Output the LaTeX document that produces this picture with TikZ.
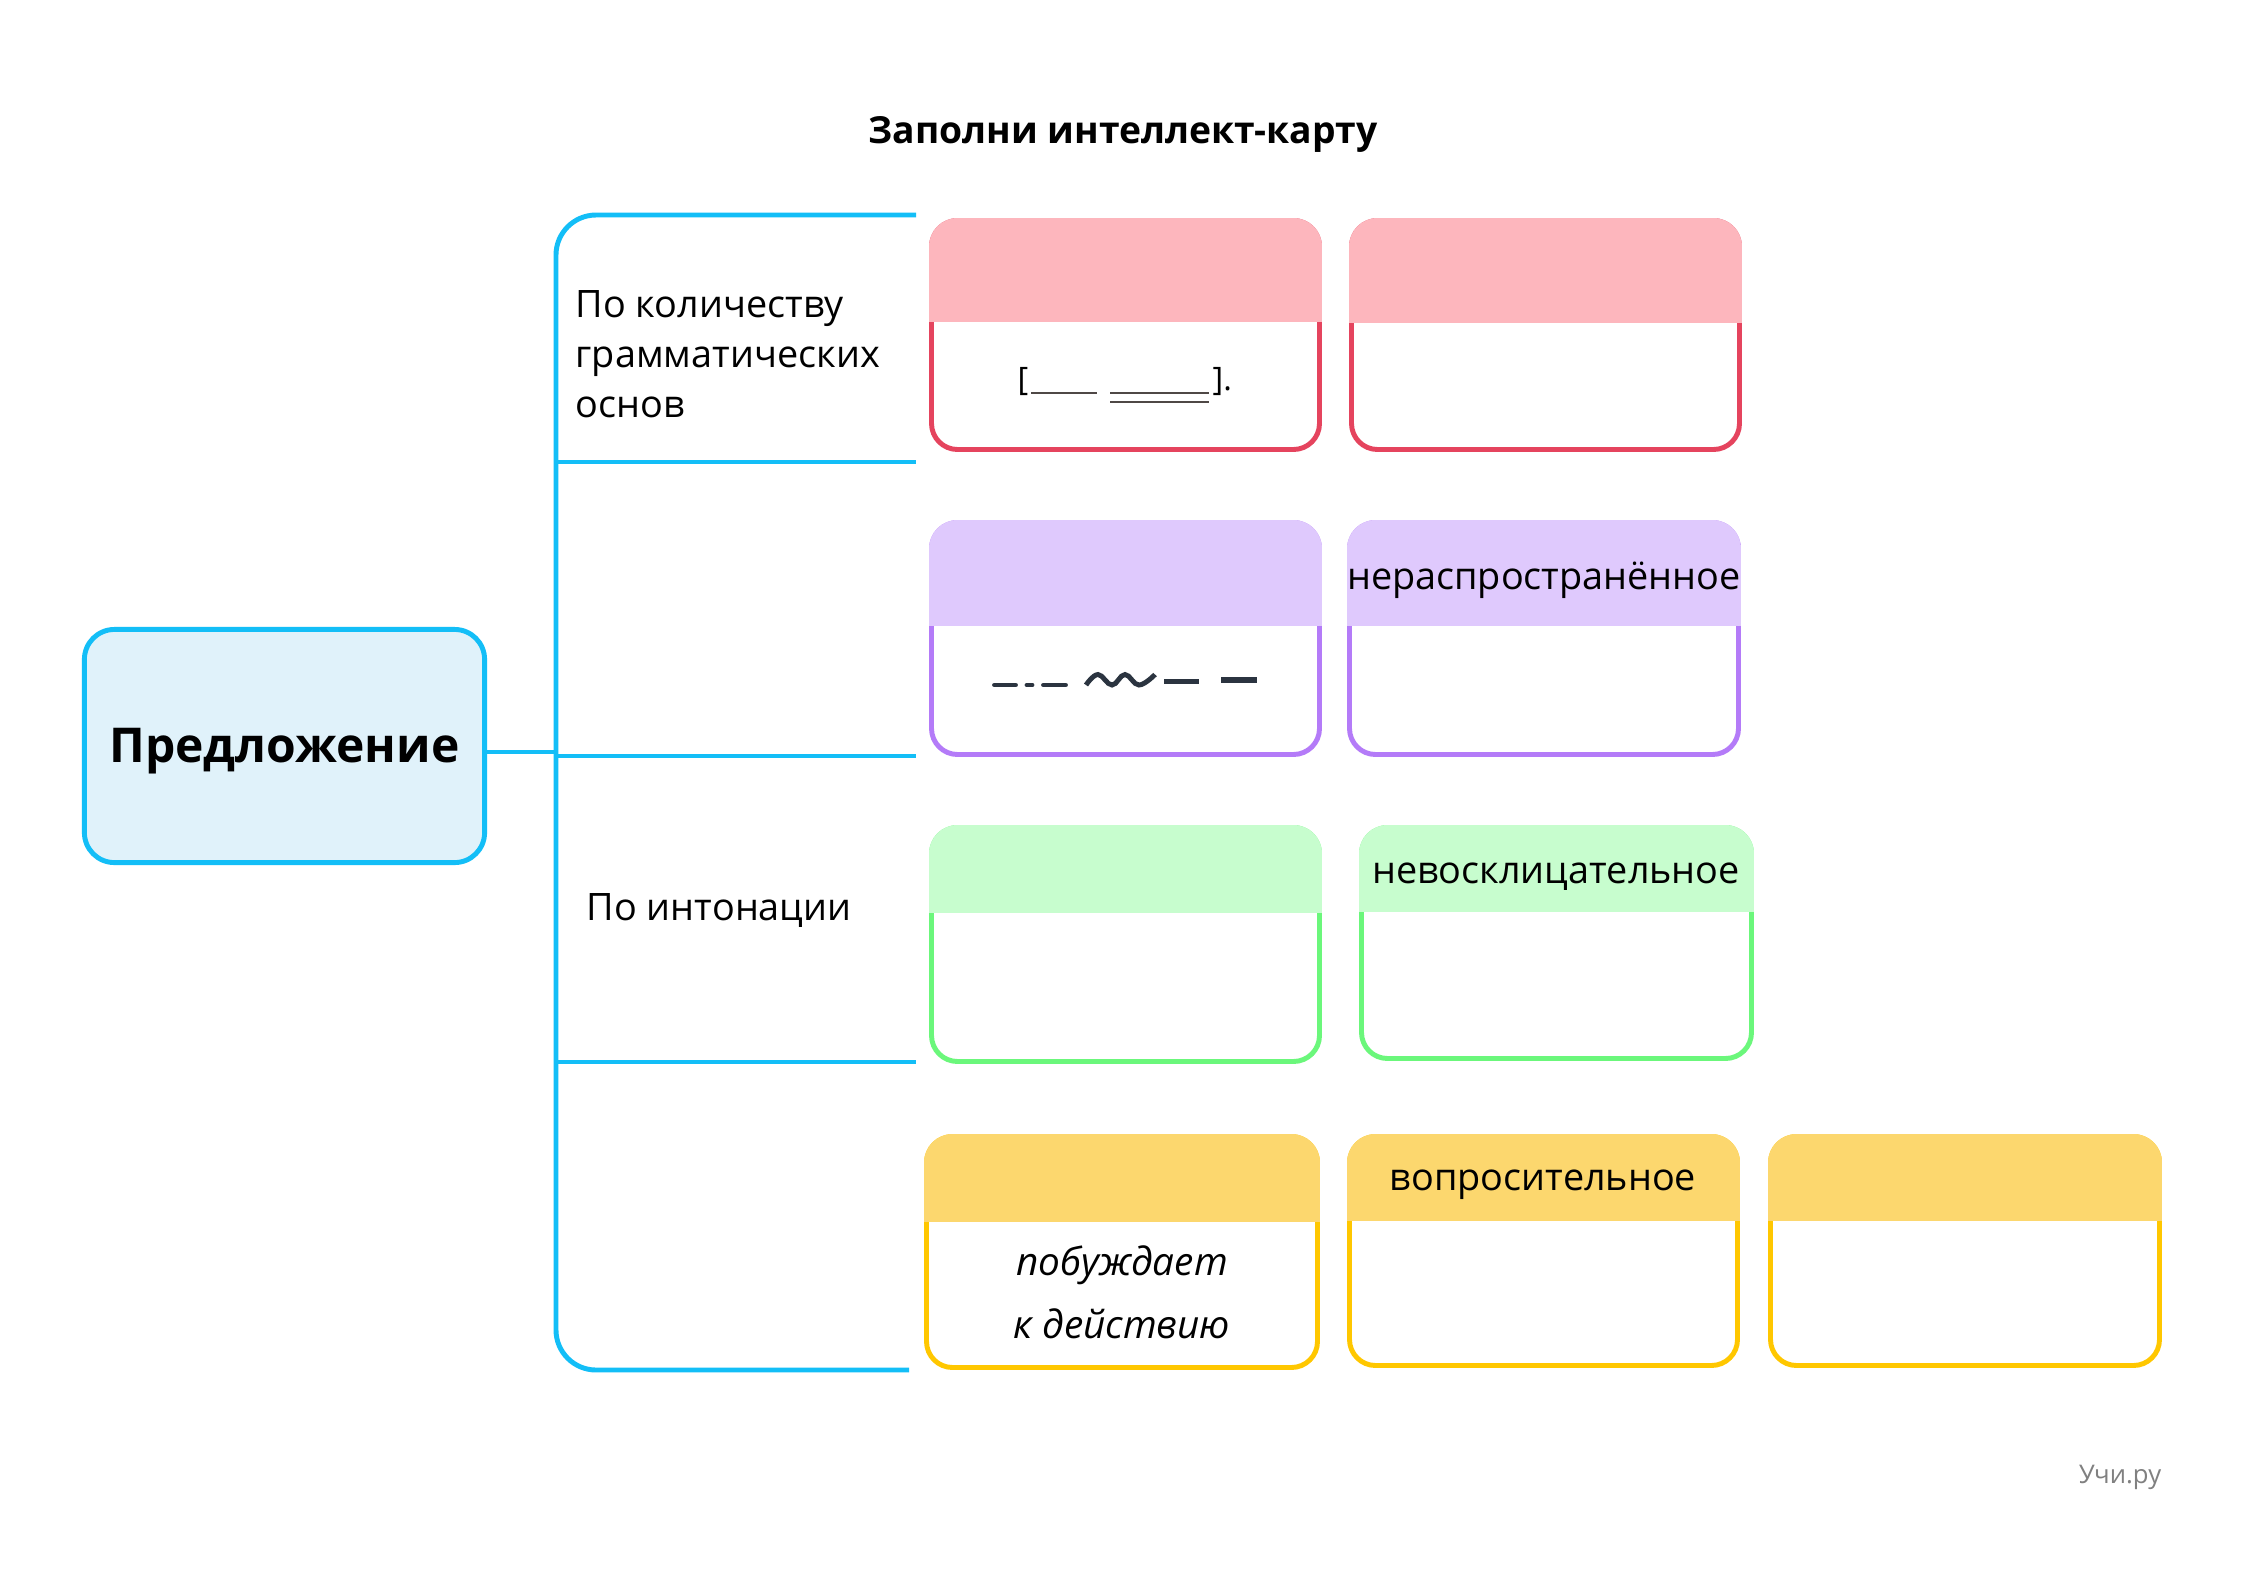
\documentclass[tikz,border=0pt]{standalone}
\usepackage{fontspec}
\setmainfont{Open Sans}
\definecolor{cyanl}{HTML}{13BEF7}
\definecolor{mainfill}{HTML}{E0F2FA}
\definecolor{redb}{HTML}{E5445E}
\definecolor{redh}{HTML}{FDB6BD}
\definecolor{purb}{HTML}{B47BF8}
\definecolor{purh}{HTML}{DFC9FD}
\definecolor{grnb}{HTML}{6BF77B}
\definecolor{grnh}{HTML}{C7FDCE}
\definecolor{ylwb}{HTML}{FFC700}
\definecolor{ylwh}{HTML}{FCD76E}
\definecolor{symdark}{HTML}{2B3440}
\definecolor{ulgrey}{HTML}{4F4846}
\begin{document}
\begin{tikzpicture}[x=0.01cm, y=-0.01cm,
    every node/.style={font=\fontsize{10.75}{14.2}\selectfont, inner sep=0},
    branch/.style={draw=cyanl, line width=1.4pt},
    card/.style={fill=white, line width=1.4pt, rounded corners=0.26cm},
    sym/.style={draw=symdark, line width=1.4pt}]
    \fill[white] (0,0) rectangle (2245,1587);
    \useasboundingbox (0,0) rectangle (2245,1587);

    \node[anchor=base, font=\fontsize{10.6}{12}\selectfont\bfseries] (title) at (1123,143) {Заполни интеллект-карту};

    \node[draw=cyanl, fill=mainfill, line width=1.4pt, rounded corners=0.3cm, minimum width=4cm, minimum height=2.33cm,
      text height=0.36cm, text depth=0.04cm, font=\fontsize{13.65}{16}\selectfont\bfseries] (sent) at (284.5,746) {Предложение};

    % bracket
    \coordinate (jn) at (556,752);
    \draw[branch, rounded corners=0.4cm] (916,215) -- (556,215) -- (556,1370) -- (909,1370);
    \draw[branch] (556,462) -- (916,462);
    \draw[branch] (556,756) -- (916,756);
    \draw[branch] (556,1062) -- (916,1062);
    \draw[branch] (jn -| sent.east) -- (jn);

    \node[anchor=north west, align=left] (g1) at (575,290) {По количеству\\грамматических\\основ};
    \node[anchor=base west] (g2) at (586,920) {По интонации};

    % red
    \draw[card, draw=redb] (931.5,220.5) rectangle (1319.5,449.5);
    \begin{scope} \clip[rounded corners=0.285cm] (929,218) rectangle (1322,452); \fill[redh] (929,218) rectangle (1322,322); \end{scope}
    \draw[card, draw=redb] (1351.5,220.5) rectangle (1739.5,449.5);
    \begin{scope} \clip[rounded corners=0.285cm] (1349,218) rectangle (1742,452); \fill[redh] (1349,218) rectangle (1742,323); \end{scope}

    % purple
    \draw[card, draw=purb] (931.5,522.5) rectangle (1319.5,754.5);
    \begin{scope} \clip[rounded corners=0.285cm] (929,520) rectangle (1322,757); \fill[purh] (929,520) rectangle (1322,626); \end{scope}
    \draw[card, draw=purb] (1349.5,522.5) rectangle (1738.5,754.5);
    \begin{scope} \clip[rounded corners=0.285cm] (1347,520) rectangle (1741,757); \fill[purh] (1347,520) rectangle (1741,626); \end{scope}

    % green
    \draw[card, draw=grnb] (931.5,827.5) rectangle (1319.5,1061.5);
    \begin{scope} \clip[rounded corners=0.285cm] (929,825) rectangle (1322,1064); \fill[grnh] (929,825) rectangle (1322,913); \end{scope}
    \draw[card, draw=grnb] (1361.5,827.5) rectangle (1751.5,1058.5);
    \begin{scope} \clip[rounded corners=0.285cm] (1359,825) rectangle (1754,1061); \fill[grnh] (1359,825) rectangle (1754,912); \end{scope}

    % yellow
    \draw[card, draw=ylwb] (926.5,1136.5) rectangle (1317.5,1367.5);
    \begin{scope} \clip[rounded corners=0.285cm] (924,1134) rectangle (1320,1370); \fill[ylwh] (924,1134) rectangle (1320,1222); \end{scope}
    \draw[card, draw=ylwb] (1349.5,1136.5) rectangle (1737.5,1365.5);
    \begin{scope} \clip[rounded corners=0.285cm] (1347,1134) rectangle (1740,1368); \fill[ylwh] (1347,1134) rectangle (1740,1221); \end{scope}
    \draw[card, draw=ylwb] (1770.5,1136.5) rectangle (2159.5,1365.5);
    \begin{scope} \clip[rounded corners=0.285cm] (1768,1134) rectangle (2162,1368); \fill[ylwh] (1768,1134) rectangle (2162,1221); \end{scope}

    \node (h4) at (1544,580) {нераспространённое};
    \node (h6) at (1556,877) {невосклицательное};
    \node (h8) at (1543,1185) {вопросительное};
    \node[align=center, font=\fontsize{11}{17.9}\selectfont\itshape] (b7) at (1122,1292) {побуждает\\к действию};

    % scheme of a compound sentence
    \node[anchor=base, font=\fontsize{9.2}{10}\selectfont] (lb) at (1023,390) {[};
    \node[anchor=base west, font=\fontsize{9.2}{10}\selectfont] (rb) at (1212,390) {].};
    \draw[ulgrey, line width=0.8pt] (1031,393) -- (1097,393);
    \draw[ulgrey, line width=0.8pt] (1110,393) -- (1209,393) (1110,402) -- (1209,402);

    % parts of the sentence
    \draw[sym, line cap=round] (994.5,685) -- (1015.5,685) (1027,685) -- (1032,685) (1043.5,685) -- (1065.5,685);
    \draw[sym] plot[smooth, tension=0.7] coordinates {(1086,685) (1098,674.5) (1112,685) (1125,674.5) (1139,685) (1155,674.5)};
    \draw[sym] (1164,681.5) -- (1199,681.5);
    \draw[sym, line width=1.6pt] (1221,680) -- (1257,680);

    \node[anchor=base east, text=gray, font=\fontsize{7.3}{9}\selectfont] (logo) at (2162,1483) {Учи.ру};
\end{tikzpicture}
\end{document}
